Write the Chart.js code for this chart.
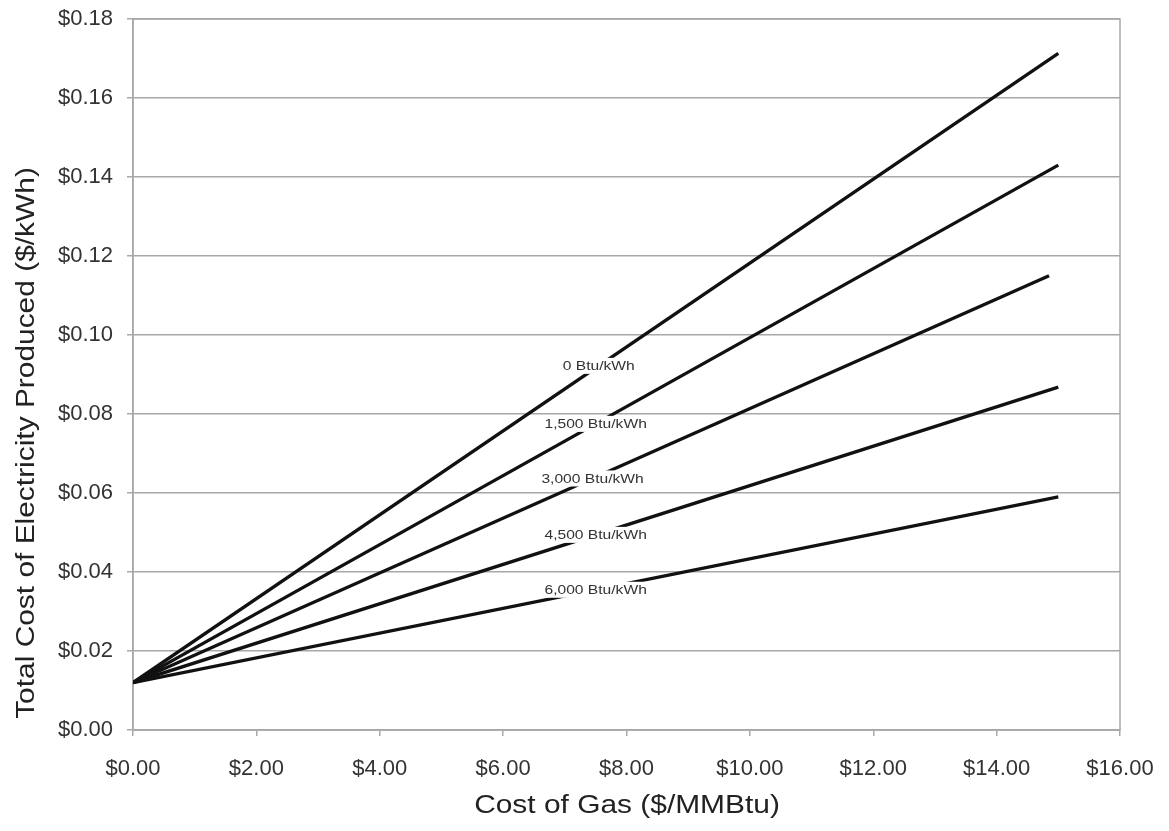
<!DOCTYPE html>
<html>
<head>
<meta charset="utf-8">
<script src="https://cdn.jsdelivr.net/npm/chart.js@4.4.1/dist/chart.umd.min.js"></script>
<style>
  html, body { margin: 0; padding: 0; background: #fff; }
  #wrap { width: 1169px; height: 831px; }
</style>
</head>
<body>
<div id="wrap"><canvas id="c" width="1169" height="831"></canvas></div>
<script>
// Data
const seriesNames = ['0 Btu/kWh', '1,500 Btu/kWh', '3,000 Btu/kWh', '4,500 Btu/kWh', '6,000 Btu/kWh'];
const gasStart = [0, 0, 0, 0, 0];
const gasEnd = [15, 15, 14.85, 15, 15];
const costStart = [0.012, 0.012, 0.012, 0.012, 0.012];
const costEnd = [0.1713, 0.143, 0.115, 0.0868, 0.059];
const labelGas = [7.55, 7.5, 7.45, 7.5, 7.5];
const yTicks = [0, 0.02, 0.04, 0.06, 0.08, 0.10, 0.12, 0.14, 0.16, 0.18];
const xTicks = [0, 2, 4, 6, 8, 10, 12, 14, 16];
const xTitle = 'Cost of Gas ($/MMBtu)';
const yTitle = 'Total Cost of Electricity Produced ($/kWh)';

const datasets = seriesNames.map((name, i) => ({
  label: name,
  data: [{x: gasStart[i], y: costStart[i]}, {x: gasEnd[i], y: costEnd[i]}],
  borderColor: '#111',
  borderWidth: 3.3,
  pointRadius: 0,
  fill: false,
  tension: 0
}));

const FONT = "'Liberation Sans', Arial, sans-serif";

function stretchedText(ctx, text, x, y, rot, sx) {
  ctx.save();
  ctx.translate(x, y);
  ctx.rotate(rot);
  ctx.scale(sx, 1);
  ctx.fillText(text, 0, 0);
  ctx.restore();
}

const framePlugin = {
  id: 'frame',
  beforeDatasetsDraw(chart) {
    const {ctx, chartArea: a} = chart;
    ctx.save();
    ctx.strokeStyle = '#a8a8a8';
    ctx.lineWidth = 1.5;
    ctx.strokeRect(a.left, a.top, a.right - a.left, a.bottom - a.top);
    ctx.restore();
  },
  afterDatasetsDraw(chart) {
    const {ctx} = chart;
    const xs = chart.scales.x, ys = chart.scales.y;
    ctx.save();
    ctx.font = '12px ' + FONT;
    ctx.textAlign = 'center';
    ctx.textBaseline = 'middle';
    const sx = 1.3;
    seriesNames.forEach((name, i) => {
      const gx = labelGas[i];
      const t = (gx - gasStart[i]) / (gasEnd[i] - gasStart[i]);
      const val = costStart[i] + t * (costEnd[i] - costStart[i]);
      const px = xs.getPixelForValue(gx);
      const py = ys.getPixelForValue(val);
      const w = ctx.measureText(name).width * sx;
      ctx.fillStyle = '#fff';
      ctx.fillRect(px - w / 2 - 3, py - 8, w + 6, 16);
      ctx.fillStyle = '#333';
      stretchedText(ctx, name, px, py + 1, 0, sx);
    });
    // axis titles
    ctx.fillStyle = '#222';
    ctx.font = '26px ' + FONT;
    stretchedText(ctx, xTitle, 627, 806, 0, 1.15);
    stretchedText(ctx, yTitle, 27, 443, -Math.PI / 2, 1.15);
    ctx.restore();
  }
};

new Chart(document.getElementById('c'), {
  type: 'line',
  data: { datasets },
  options: {
    responsive: false,
    animation: false,
    layout: { padding: { top: 19, right: 49, bottom: 0, left: 0 } },
    plugins: { legend: { display: false }, tooltip: { enabled: false } },
    scales: {
      x: {
        type: 'linear',
        min: 0, max: 16,
        afterBuildTicks(axis) { axis.ticks = xTicks.map(v => ({value: v})); },
        afterFit(axis) { axis.height = 101; axis.paddingLeft = 0; axis.paddingRight = 0; },
        ticks: {
          callback: v => '$' + Number(v).toFixed(2),
          color: '#333',
          font: { family: FONT, size: 22 },
          padding: 20,
          maxRotation: 0
        },
        grid: { display: true, drawOnChartArea: false, drawTicks: true, tickLength: 6, color: '#a8a8a8', lineWidth: 1.5 },
        border: { display: true, color: '#a8a8a8', width: 1.5 },
        title: { display: false }
      },
      y: {
        type: 'linear',
        min: 0, max: 0.18,
        afterBuildTicks(axis) { axis.ticks = yTicks.map(v => ({value: v})); },
        afterFit(axis) { axis.width = 133; axis.paddingTop = 0; axis.paddingBottom = 0; },
        ticks: {
          callback: v => '$' + Number(v).toFixed(2),
          color: '#333',
          font: { family: FONT, size: 22 },
          padding: 14
        },
        grid: { color: '#a8a8a8', lineWidth: 1.5, tickLength: 6 },
        border: { display: true, color: '#a8a8a8', width: 1.5 },
        title: { display: false }
      }
    }
  },
  plugins: [framePlugin]
});
</script>
</body>
</html>
